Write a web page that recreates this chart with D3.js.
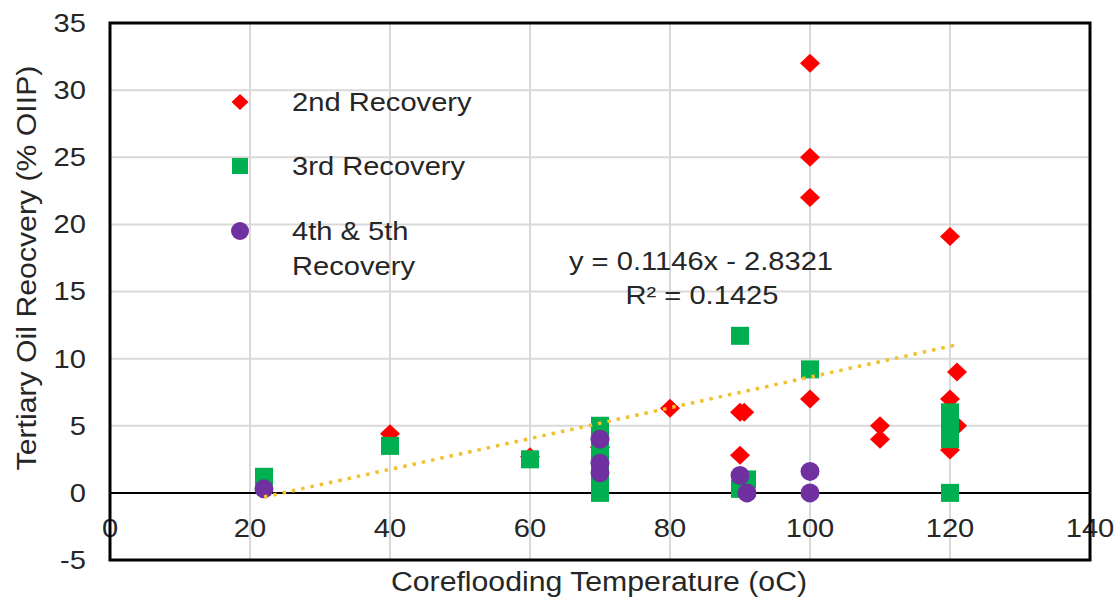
<!DOCTYPE html>
<html><head><meta charset="utf-8">
<script src="https://cdn.jsdelivr.net/npm/d3@7"></script>
<style>
body{margin:0;background:#fff}
text{font-family:"Liberation Sans",Arial,sans-serif;fill:#262626}
</style>
</head><body>
<svg id="c" width="1120" height="600"></svg>
<script>
// ---- data ----
const xTicks = [0, 20, 40, 60, 80, 100, 120, 140];
const yTicks = [-5, 0, 5, 10, 15, 20, 25, 30, 35];
const xGrid = [20, 40, 60, 80, 100, 120];
const yGrid = [5, 10, 15, 20, 25, 30];
const recovery2nd = [[40,4.4],[60,2.7],[70,3.4],[80,6.3],[90,6.0],[90.6,6.0],[90,2.8],[100,32],[100,25],[100,22],[100,7],[110,5],[110,4],[120,19.1],[121,9],[120,7],[121,5],[120,3.2]];
const recovery3rd = [[22,1.2],[40,3.5],[60,2.5],[70,5.0],[70,4.2],[70,3.0],[70,2.0],[70,1.0],[70,0],[90,11.7],[91,1.0],[90,0.3],[100,9.2],[120,6.0],[120,5.0],[120,4.0],[120,0]];
const recovery4th5th = [[22,0.3],[70,4.0],[70,2.2],[70,1.5],[90,1.3],[91,0],[100,1.6],[100,0]];
const trendSlope = 0.1146, trendIntercept = -2.8321, trendRange = [22, 121];
const legendLabels = [["2nd Recovery"], ["3rd Recovery"], ["4th & 5th", "Recovery"]];
const trendLabels = ["y = 0.1146x - 2.8321", "R² = 0.1425"];

// ---- layout ----
const L = 110, R = 1090, T = 23, B = 560;
const svg = d3.select("#c");
const x = d3.scaleLinear().domain([0, 140]).range([L, R]);
const y = d3.scaleLinear().domain([-5, 35]).range([B, T]);
const SX = 1.12;

function label(px, py, str, size, anchor, rot) {
  const g = svg.append("g").attr("transform", `translate(${px},${py})` + (rot ? ` rotate(${rot})` : "") + ` scale(${SX},1)`);
  g.append("text").attr("text-anchor", anchor).attr("dominant-baseline", "central")
    .style("font-size", size + "px").text(str);
}

// grid
svg.append("g").selectAll("line").data(yGrid).join("line")
  .attr("x1", L).attr("x2", R).attr("y1", d => y(d)).attr("y2", d => y(d))
  .attr("stroke", "#d9d9d9").attr("stroke-width", 2);
svg.append("g").selectAll("line").data(xGrid).join("line")
  .attr("y1", T).attr("y2", B).attr("x1", d => x(d)).attr("x2", d => x(d))
  .attr("stroke", "#d9d9d9").attr("stroke-width", 2);

// zero line
svg.append("line").attr("x1", L).attr("x2", R).attr("y1", y(0)).attr("y2", y(0))
  .attr("stroke", "#000").attr("stroke-width", 2);

// tick labels
xTicks.forEach(t => label(x(t), 528, t, 26, "middle"));
yTicks.forEach(t => label(86, y(t), t, 26, "end"));

// series
const diamond = "M0,-9.5L10,0L0,9.5L-10,0Z";
svg.append("g").selectAll("path").data(recovery2nd).join("path")
  .attr("transform", d => `translate(${x(d[0])},${y(d[1])})`).attr("d", diamond).attr("fill", "#ff0000");
svg.append("g").selectAll("rect").data(recovery3rd).join("rect")
  .attr("x", d => x(d[0]) - 9).attr("y", d => y(d[1]) - 9).attr("width", 18).attr("height", 18).attr("fill", "#00b050");
svg.append("g").selectAll("circle").data(recovery4th5th).join("circle")
  .attr("cx", d => x(d[0])).attr("cy", d => y(d[1])).attr("r", 9.5).attr("fill", "#7030a0");

// trendline
svg.append("line")
  .attr("x1", x(trendRange[0])).attr("y1", y(trendSlope * trendRange[0] + trendIntercept))
  .attr("x2", x(trendRange[1])).attr("y2", y(trendSlope * trendRange[1] + trendIntercept))
  .attr("stroke", "#f2c12e").attr("stroke-width", 3.5).attr("stroke-dasharray", "3.5 6");

// frame
svg.append("rect").attr("x", L).attr("y", T).attr("width", R - L).attr("height", B - T)
  .attr("fill", "none").attr("stroke", "#000").attr("stroke-width", 3);

// trend text
label(701, 261, trendLabels[0], 26, "middle");
label(702, 295, trendLabels[1], 26, "middle");

// legend
const lg = svg.append("g");
lg.append("path").attr("transform", "translate(240,102)").attr("d", "M0,-8L8.5,0L0,8L-8.5,0Z").attr("fill", "#ff0000");
lg.append("rect").attr("x", 232).attr("y", 158).attr("width", 16).attr("height", 16).attr("fill", "#00b050");
lg.append("circle").attr("cx", 240).attr("cy", 231).attr("r", 9).attr("fill", "#7030a0");
label(292, 102, legendLabels[0][0], 26, "start");
label(292, 166, legendLabels[1][0], 26, "start");
label(292, 231, legendLabels[2][0], 26, "start");
label(292, 266, legendLabels[2][1], 26, "start");

// axis titles
label(599, 582, "Coreflooding Temperature (oC)", 27, "middle");
label(27, 268, "Tertiary Oil Reocvery (% OIIP)", 27, "middle", -90);
</script>
</body></html>
